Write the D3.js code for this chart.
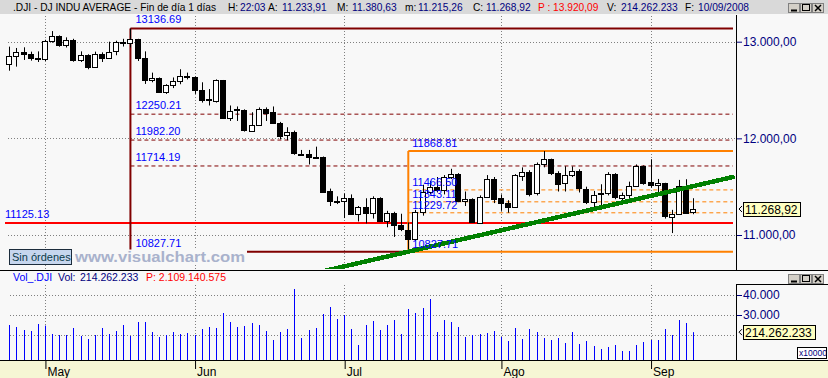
<!DOCTYPE html>
<html>
<head>
<meta charset="utf-8">
<script src="https://cdn.jsdelivr.net/npm/d3@7"></script>
<style>
  body { margin: 0; background: #f8f8f8; }
  svg { display: block; font-family: "Liberation Sans", Arial, sans-serif; }
</style>
</head>
<body>
<svg id="chart" width="828" height="378"></svg>
<script>
// ---- data (.DJI daily, 24/04/2008 .. 10/09/2008) ----
const dates = [
  "2008-04-24","2008-04-25","2008-04-28","2008-04-29","2008-04-30",
  "2008-05-01","2008-05-02","2008-05-05","2008-05-06","2008-05-07","2008-05-08","2008-05-09",
  "2008-05-12","2008-05-13","2008-05-14","2008-05-15","2008-05-16","2008-05-19","2008-05-20",
  "2008-05-21","2008-05-22","2008-05-23","2008-05-27","2008-05-28","2008-05-29","2008-05-30",
  "2008-06-02","2008-06-03","2008-06-04","2008-06-05","2008-06-06","2008-06-09","2008-06-10",
  "2008-06-11","2008-06-12","2008-06-13","2008-06-16","2008-06-17","2008-06-18","2008-06-19",
  "2008-06-20","2008-06-23","2008-06-24","2008-06-25","2008-06-26","2008-06-27","2008-06-30",
  "2008-07-01","2008-07-02","2008-07-03","2008-07-07","2008-07-08","2008-07-09","2008-07-10",
  "2008-07-11","2008-07-14","2008-07-15","2008-07-16","2008-07-17","2008-07-18","2008-07-21",
  "2008-07-22","2008-07-23","2008-07-24","2008-07-25","2008-07-28","2008-07-29","2008-07-30",
  "2008-07-31","2008-08-01","2008-08-04","2008-08-05","2008-08-06","2008-08-07","2008-08-08",
  "2008-08-11","2008-08-12","2008-08-13","2008-08-14","2008-08-15","2008-08-18","2008-08-19",
  "2008-08-20","2008-08-21","2008-08-22","2008-08-25","2008-08-26","2008-08-27","2008-08-28",
  "2008-08-29","2008-09-02","2008-09-03","2008-09-04","2008-09-05","2008-09-08","2008-09-09",
  "2008-09-10"
];

const opens = [
  12769,12849,12892,12872,12832,12820,13010,13059,12970,13021,
  12814,12867,12746,12876,12832,12898,12993,12987,13028,12829,
  12601,12626,12480,12548,12594,12646,12638,12504,12403,12390,
  12604,12210,12300,12290,12084,12142,12307,12269,12160,12029,
  12063,11843,11842,11807,11812,11453,11347,11350,11382,11216,
  11289,11232,11384,11147,11229,11101,11055,10963,11239,11447,
  11497,11467,11602,11632,11349,11371,11131,11398,11584,11378,
  11326,11284,11616,11656,11431,11734,11782,11642,11533,11616,
  11660,11479,11349,11417,11430,11628,11386,11413,11503,11715,
  11544,11517,11533,11188,11221,11511,11233.91
];
const highs = [
  12949,12935,12942,12897,12900,13020,13110,13065,13045,13030,
  12900,12870,12897,12890,13000,13010,13030,13136.69,13030,12900,
  12680,12630,12560,12630,12715,12680,12640,12580,12510,12610,
  12604,12340,12330,12300,12270,12320,12320,12330,12170,12115,
  12080,11880,11880,11914,11812,11480,11400,11430,11420,11300,
  11380,11400,11390,11250,11240,11220,11130,11260,11520,11560,
  11600,11620,11685,11640,11450,11380,11410,11620,11600,11420,
  11360,11630,11700,11670,11750,11868.81,11790,11660,11712,11710,
  11680,11500,11456,11525,11650,11640,11439,11552,11730,11720,
  11784,11580,11540,11260,11570,11577,11380.63
];
const lows = [
  12700,12742,12811,12804,12790,12800,12990,12948,12940,12793,
  12790,12715,12740,12790,12825,12860,12950,12940,12800,12563,
  12580,12470,12460,12520,12560,12610,12460,12370,12340,12370,
  12200,12180,12180,12070,12080,12140,12180,12150,11990,11980,
  11830,11820,11730,11790,11440,11300,11320,11175,11210,11140,
  11120,11170,11140,11080,10980,11040,10827.71,10940,11200,11420,
  11440,11420,11580,11340,11300,11125,11130,11390,11330,11250,
  11230,11280,11560,11400,11410,11700,11620,11450,11450,11600,
  11440,11320,11285,11301,11410,11370,11335,11381,11500,11520,
  11490,11420,11170,11020,11220,11220,11215.26
];
const closes = [
  12849,12892,12872,12832,12820,13010,13059,12970,13021,12814,
  12867,12746,12876,12832,12898,12993,12987,13028,12829,12601,
  12626,12480,12548,12594,12646,12638,12504,12403,12390,12604,
  12210,12280,12290,12084,12142,12307,12269,12160,12029,12063,
  11843,11842,11807,11812,11453,11347,11350,11382,11216,11289,
  11232,11384,11147,11229,11101,11055,10963,11239,11447,11497,
  11467,11602,11632,11349,11371,11131,11398,11584,11378,11326,
  11284,11616,11656,11431,11734,11782,11642,11533,11616,11660,
  11479,11349,11417,11430,11628,11386,11413,11503,11715,11544,
  11517,11533,11188,11221,11511,11231,11268.92
];
// volume in units of x10000
const volumes = [
  25000,24000,22500,22000,25500,24700,20500,20000,20000,23500,
  19500,18000,20000,23500,20500,22000,25000,19500,26500,26500,
  21500,19000,20000,21500,20500,21000,20000,23000,24000,23500,
  31000,26500,24000,24500,26000,25000,22000,17500,21500,23000,
  43000,18500,22500,23500,30500,34000,28000,30000,23000,15000,
  25000,27000,22500,25000,27500,20500,33000,31000,33500,38000,
  21500,27500,26500,24000,19000,20000,20500,21000,22000,19000,
  17000,23500,18000,23000,21500,18500,17500,18500,16000,21500,
  15500,17000,14500,13000,14000,15000,12000,12000,15000,16500,
  17500,17500,23000,20000,27500,26000,21426
];

const monthNames = ["May", "Jun", "Jul", "Ago", "Sep"];
const priceTicks = [13000, 12000, 11000];
const priceTickLabels = ["13.000,00", "12.000,00", "11.000,00"];
const volGrid = [40000, 30000, 20000];
const volTicks = [40000, 30000];          // 20.000 sits under the last-value box
const volTickLabels = ["40.000", "30.000"];

// retracement drawn from the 19/05 high to the 15/07 low
const fibA = { from: 17, to: 56, levels: [13136.69, 12250.21, 11982.20, 11714.19, 10827.71] };
// retracement from the 15/07 low to the 11/08 high
const fibB = { from: 56, levels: [11868.81, 11466.50, 11343.11, 11229.72, 10827.71] };
const supportLevel = 11125.13;
const trendIdx = [56, 101.8];
const trendVal = [10827.71, 11604];

const lastClose = "11.268,92";
const lastVol = "214.262.233";

// ---- layout ----
const svg = d3.select('#chart');
const W = 828, H = 378;
const plotRight = 736, plotTop = 16, plotBottom = 269;
const volBottom = 360;

const x = d3.scaleLinear().domain([0, dates.length - 1]).range([9.3, 693.3]);
const y = d3.scaleLinear().domain([11000, 13000]).range([235, 41.7]);
const yv = d3.scaleLinear().domain([0, 40000]).range([375, 295]);
const endIdx = x.invert(plotRight - 3);

const navy = '#000080', blue = '#0000ff', darkRed = '#800000', orange = '#ff8000';

svg.append('rect').attr('width', W).attr('height', H).attr('fill', '#f8f8f8');

// month boundaries
const monthIdx = [];
dates.forEach((d, i) => {
  if (i > 0 && d.slice(5, 7) !== dates[i - 1].slice(5, 7)) monthIdx.push(i);
});
const px = v => Math.round(v) + 0.5;

// ============================================================
//  Grids
// ============================================================
const grid = svg.append('g').attr('stroke', '#808080').attr('stroke-dasharray', '1,2');
monthIdx.forEach(i => {
  grid.append('line').attr('x1', px(x(i))).attr('x2', px(x(i))).attr('y1', plotTop).attr('y2', plotBottom);
  grid.append('line').attr('x1', px(x(i))).attr('x2', px(x(i))).attr('y1', 285).attr('y2', volBottom);
});
priceTicks.forEach(v => {
  grid.append('line').attr('x1', 8).attr('x2', plotRight).attr('y1', px(y(v))).attr('y2', px(y(v)));
});
volGrid.forEach(v => {
  grid.append('line').attr('x1', 10).attr('x2', plotRight).attr('y1', px(yv(v))).attr('y2', px(yv(v)));
});

// ============================================================
//  Annotation lines
// ============================================================
const ann = svg.append('g');
const hline = (i0, i1, v, color, w, dash) => ann.append('line')
  .attr('x1', x(i0)).attr('x2', x(i1)).attr('y1', y(v)).attr('y2', y(v))
  .attr('stroke', color).attr('stroke-width', w).attr('stroke-dasharray', dash || null);

// support line
hline(x.invert(5), endIdx, supportLevel, '#ff0000', 2);

// set A (dark red)
fibA.levels.forEach((v, k) => {
  const last = k === fibA.levels.length - 1;
  if (k === 0) hline(fibA.from, endIdx, v, darkRed, 2);
  else if (last) hline(fibA.from, fibA.to, v, darkRed, 2);
  else hline(fibA.from, endIdx, v, darkRed, 1, '4,3');
});
ann.append('line').attr('x1', x(fibA.from)).attr('x2', x(fibA.from))
  .attr('y1', y(fibA.levels[0])).attr('y2', y(fibA.levels[4]))
  .attr('stroke', darkRed).attr('stroke-width', 2);

// set B (orange)
fibB.levels.forEach((v, k) => {
  const edge = k === 0 || k === fibB.levels.length - 1;
  hline(fibB.from, endIdx, v, orange, edge ? 2 : 1, edge ? null : '4,3');
});
ann.append('line').attr('x1', x(fibB.from)).attr('x2', x(fibB.from))
  .attr('y1', y(fibB.levels[0])).attr('y2', y(fibB.levels[4]))
  .attr('stroke', orange).attr('stroke-width', 2);

// ============================================================
//  Candles
// ============================================================
const candles = svg.append('g').selectAll('g').data(dates).join('g');
candles.append('line')
  .attr('x1', (d, i) => px(x(i))).attr('x2', (d, i) => px(x(i)))
  .attr('y1', (d, i) => y(highs[i])).attr('y2', (d, i) => y(lows[i]))
  .attr('stroke', '#000');
candles.append('rect')
  .attr('x', (d, i) => px(x(i)) - 3)
  .attr('y', (d, i) => Math.round(y(Math.max(opens[i], closes[i]))) + 0.5)
  .attr('width', 5)
  .attr('height', (d, i) => Math.max(1, Math.round(Math.abs(y(opens[i]) - y(closes[i])))))
  .attr('fill', (d, i) => closes[i] >= opens[i] ? '#fff' : '#000')
  .attr('stroke', '#000');

// trend line
svg.append('clipPath').attr('id', 'plotClip').append('rect')
  .attr('x', 0).attr('y', plotTop).attr('width', plotRight).attr('height', plotBottom - plotTop);
const slope = (trendVal[1] - trendVal[0]) / (trendIdx[1] - trendIdx[0]);
const trendStart = trendIdx[0] - 14;
svg.append('line').attr('clip-path', 'url(#plotClip)')
  .attr('x1', x(trendStart)).attr('y1', y(trendVal[0] + slope * (trendStart - trendIdx[0])))
  .attr('x2', x(trendIdx[1])).attr('y2', y(trendVal[1]))
  .attr('stroke', '#008000').attr('stroke-width', 4.5).attr('shape-rendering', 'crispEdges');

// ============================================================
//  Level labels
// ============================================================
const lab = svg.append('g').attr('font-size', 11).attr('fill', blue);
fibA.levels.forEach(v => lab.append('text').attr('x', x(fibA.from) + 5).attr('y', y(v) - 5).text(v.toFixed(2)));
fibB.levels.forEach(v => lab.append('text').attr('x', x(fibB.from) + 4).attr('y', y(v) - 4).text(v.toFixed(2)));
lab.append('text').attr('x', 5).attr('y', y(supportLevel) - 4.5).text(supportLevel.toFixed(2));

// watermark + orders box
svg.append('rect').attr('x', 73).attr('y', 249.5).attr('width', 174).attr('height', 15).attr('fill', '#f8f8f8');
svg.append('text').attr('x', 75).attr('y', 262).attr('font-size', 14).attr('font-weight', 'bold')
  .attr('fill', '#a9b2cc').attr('textLength', 170).attr('lengthAdjust', 'spacingAndGlyphs')
  .text('www.visualchart.com');
svg.append('rect').attr('x', 9.5).attr('y', 249.5).attr('width', 62).attr('height', 15)
  .attr('fill', '#c6d6ee').attr('stroke', '#1c2c3c');
svg.append('text').attr('x', 12).attr('y', 261).attr('font-size', 11).attr('fill', '#0a3a4a').text('Sin órdenes');

// ============================================================
//  Volume
// ============================================================
svg.append('g').selectAll('line').data(volumes).join('line')
  .attr('x1', (d, i) => px(x(i))).attr('x2', (d, i) => px(x(i)))
  .attr('y1', d => yv(d)).attr('y2', volBottom)
  .attr('stroke', blue).attr('stroke-width', 1);

// ============================================================
//  Frames, header, axes
// ============================================================
svg.append('rect').attr('x', 0).attr('y', 0).attr('width', W).attr('height', 14).attr('fill', '#d9d9d9');
svg.append('rect').attr('x', plotRight + 1).attr('y', 15).attr('width', W - plotRight).attr('height', 255).attr('fill', '#f8f8f8');
svg.append('rect').attr('x', plotRight + 1).attr('y', 285).attr('width', W - plotRight).attr('height', 75).attr('fill', '#f8f8f8');
svg.append('rect').attr('x', 0).attr('y', volBottom).attr('width', W).attr('height', H - volBottom).attr('fill', '#f6f6d4');

const frame = svg.append('g').attr('stroke', '#000').attr('fill', 'none');
frame.append('path').attr('d', `M${plotRight + 0.5},15 V270`);
frame.append('path').attr('d', `M0,270.5 H${W}`);
frame.append('path').attr('d', `M${plotRight + 0.5},285 V360 M${plotRight},284.5 H${W}`);
frame.append('path').attr('d', `M0,${volBottom + 0.5} H${W}`);

// price axis
const pAxis = svg.append('g').attr('transform', `translate(${plotRight + 1},0)`)
  .call(d3.axisRight(y).tickValues(priceTicks).tickFormat((d, i) => priceTickLabels[i]).tickSize(5).tickPadding(1));
pAxis.select('.domain').remove();
pAxis.selectAll('line').attr('stroke', navy);
pAxis.selectAll('text').attr('fill', navy).attr('font-size', 12).attr('font-family', null);

// volume axis
const vAxis = svg.append('g').attr('transform', `translate(${plotRight + 1},0)`)
  .call(d3.axisRight(yv).tickValues(volTicks).tickFormat((d, i) => volTickLabels[i]).tickSize(5).tickPadding(1));
vAxis.select('.domain').remove();
vAxis.selectAll('line').attr('stroke', navy);
vAxis.selectAll('text').attr('fill', navy).attr('font-size', 12).attr('font-family', null);

// last value boxes
function valueBox(cy, w, label) {
  const g = svg.append('g');
  g.append('path').attr('d', `M742,${cy - 3} L739,${cy} L742,${cy + 3}`).attr('stroke', '#000').attr('fill', 'none');
  g.append('rect').attr('x', 743.5).attr('y', Math.round(cy - 7.5) + 0.5).attr('width', w).attr('height', 14)
    .attr('fill', '#ffffc0').attr('stroke', '#000');
  g.append('text').attr('x', 745).attr('y', Math.round(cy) + 5).attr('font-size', 12).attr('fill', '#000').text(label);
}
valueBox(y(closes[closes.length - 1]), 57, lastClose);
valueBox(yv(volumes[volumes.length - 1]), 72, lastVol);

svg.append('rect').attr('x', 797.5).attr('y', 347.5).attr('width', 29).attr('height', 11).attr('fill', '#fff').attr('stroke', '#000');
svg.append('text').attr('x', 799).attr('y', 356).attr('font-size', 8.5).attr('fill', navy).text('x10000');

// time axis
const tAxis = svg.append('g').attr('transform', `translate(0,${volBottom})`)
  .call(d3.axisBottom(x).tickValues(monthIdx).tickFormat((d, i) => monthNames[i]).tickSize(9).tickPadding(0));
tAxis.select('.domain').remove();
tAxis.selectAll('.tick line').attr('stroke', '#000').attr('transform', 'translate(0.5,0)');
tAxis.selectAll('text').attr('text-anchor', 'start').attr('x', 2).attr('y', 7)
  .attr('fill', '#000').attr('font-size', 12).attr('font-family', null);

// header texts
const header = [
  [13, '.DJI - DJ INDU AVERAGE - Fin de día 1 días', '#000'],
  [228, 'H:', '#000'], [240, '22:03', navy],
  [268, 'A:', '#000'], [282, '11.233,91', navy],
  [337, 'M:', '#000'], [352, '11.380,63', navy],
  [405, 'm:', '#000'], [418, '11.215,26', navy],
  [473, 'C:', '#000'], [486, '11.268,92', navy],
  [538, 'P : 13.920,09', '#ff0000'],
  [607, 'V:', '#000'], [621, '214.262.233', navy],
  [685, 'F:', '#000'], [698, '10/09/2008', navy]
];
const hg = svg.append('g').attr('font-size', 10.2);
header.forEach(([hx, t, c]) => hg.append('text').attr('x', hx).attr('y', 11).attr('fill', c).text(t));

const volHeader = [
  [13, 'Vol_.DJI', blue], [58, 'Vol:', navy], [80, '214.262.233', navy], [146, 'P: 2.109.140.575', '#ff0000']
];
const vg = svg.append('g').attr('font-size', 10.5);
volHeader.forEach(([hx, t, c]) => vg.append('text').attr('x', hx).attr('y', 281).attr('fill', c).text(t));

// window buttons
function buttons(x0, y0) {
  const g = svg.append('g');
  [0, 12, 24].forEach((dx, k) => {
    g.append('rect').attr('x', x0 + dx + 0.5).attr('y', y0 + 0.5).attr('width', 11).attr('height', 9)
      .attr('fill', '#d4d0c8').attr('stroke', '#808080');
    const cx = x0 + dx + 6, cy = y0 + 5;
    if (k === 0) g.append('path').attr('d', `M${cx - 3},${cy + 2.5} H${cx + 3}`).attr('stroke', '#000').attr('stroke-width', 2);
    if (k === 1) g.append('rect').attr('x', cx - 3.5).attr('y', cy - 3.5).attr('width', 7).attr('height', 6)
      .attr('fill', 'none').attr('stroke', '#000');
    if (k === 2) g.append('path').attr('d', `M${cx - 3},${cy - 3} L${cx + 3},${cy + 3} M${cx + 3},${cy - 3} L${cx - 3},${cy + 3}`)
      .attr('stroke', '#000').attr('stroke-width', 1.5);
  });
}
buttons(788, 3);
buttons(788, 274);
</script>
</body>
</html>
